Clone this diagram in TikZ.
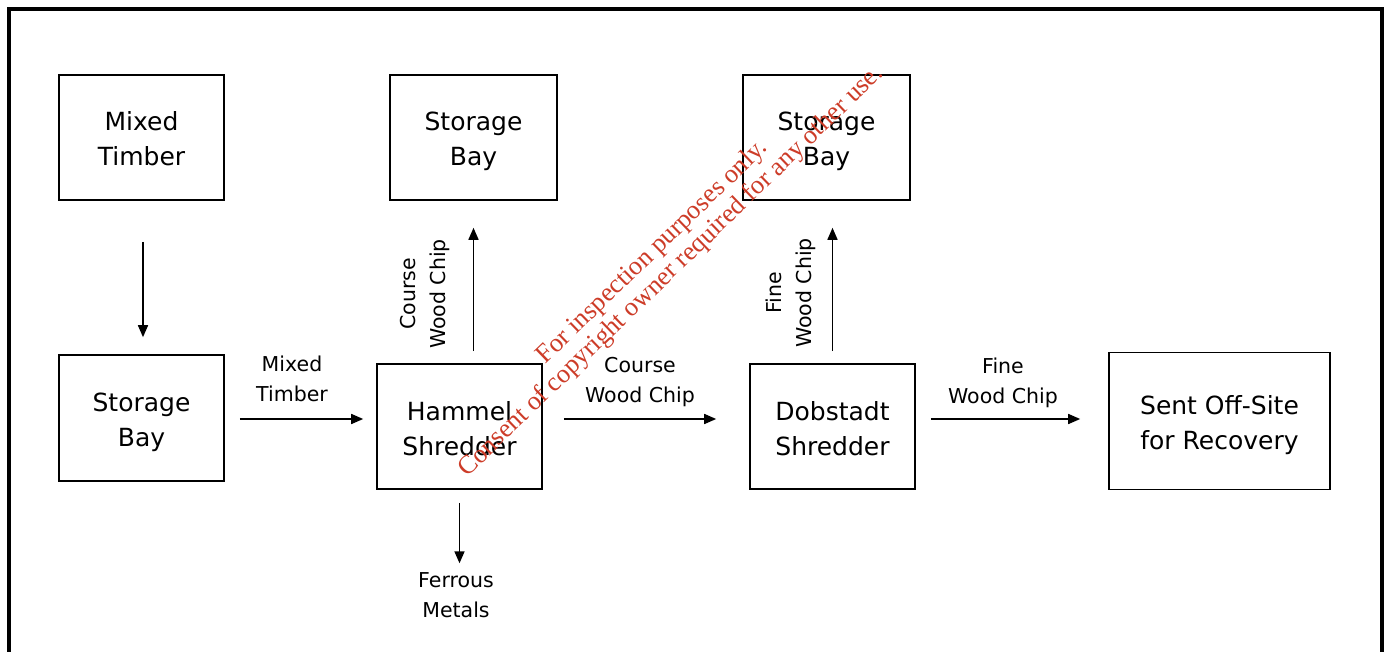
\documentclass[tikz,border=0pt]{standalone}
\usepackage{fontspec}
\setmainfont{DejaVu Sans}
\newfontfamily\wmfont{Liberation Serif}
\usetikzlibrary{arrows.meta}
\definecolor{wmred}{RGB}{205,60,40}
\newcommand\bst{\rule[-6pt]{0pt}{34pt}}
\newcommand\lst{\rule[-7pt]{0pt}{29pt}}
\begin{document}
\begin{tikzpicture}[x=1pt,y=-1pt,
  box/.style={draw,line width=1.6pt,inner sep=0pt,align=center,
    font=\fontsize{25}{35}\selectfont},
  lab/.style={inner sep=0pt,align=center,font=\fontsize{20.5}{30}\selectfont},
  arr/.style={line width=1.6pt,-{Triangle[length=12pt,width=10pt]}}]
\useasboundingbox (0,0) rectangle (1389,652);
\clip (0,0) rectangle (1389,652);
\fill[white] (0,0) rectangle (1389,652);
\draw[line width=4pt] (8.5,9.5) rectangle (1381.5,670);
% boxes
\node[box,minimum width=165pt,minimum height=125pt] (mt) at (141.5,137.5) {Mixed\bst\\Timber\bst};
\node[box,minimum width=165pt,minimum height=126pt] (sbl) at (141.5,418) {Storage\bst\\Bay\bst};
\node[box,minimum width=167pt,minimum height=125pt] (sb1) at (473.5,137.5) {Storage\bst\\Bay\bst};
\node[box,minimum width=165pt,minimum height=125pt] (hs) at (459.5,426.5) {Hammel\bst\\Shredder\bst};
\node[box,minimum width=167pt,minimum height=125pt] (sb2) at (826.5,137.5) {Storage\bst\\Bay\bst};
\node[box,minimum width=165pt,minimum height=125pt] (ds) at (832.5,426.5) {Dobstadt\bst\\Shredder\bst};
\node[box,minimum width=221pt,minimum height=137pt] (so) at (1219.5,421) {Sent Off-Site\bst\\for Recovery\bst};
% labels
\node[lab] (l1) at (292,379) {Mixed\lst\\Timber\lst};
\node[lab] (l2) at (640,380) {Course\lst\\Wood Chip\lst};
\node[lab] (l3) at (1003,381) {Fine\lst\\Wood Chip\lst};
\node[lab,rotate=90] (l4) at (423,294) {Course\lst\\Wood Chip\lst};
\node[lab,rotate=90] (l5) at (789,293) {Fine\lst\\Wood Chip\lst};
\node[lab] (fm) at (456,595) {Ferrous\lst\\Metals\lst};
% arrows
\draw[arr,shorten <=41pt,shorten >=17pt] ([xshift=1.5pt]mt.south) -- ([xshift=1.5pt]sbl.north);
\draw[arr,shorten <=15pt,shorten >=13pt] ([yshift=-1pt]sbl.east) -- ([yshift=-1pt]sbl.east -| hs.west);
\draw[arr,shorten <=21pt,shorten >=33pt] ([yshift=7.5pt]hs.east) -- ([yshift=7.5pt]ds.west);
\draw[arr,shorten <=15pt,shorten >=28pt] ([yshift=7.5pt]ds.east) -- ([yshift=7.5pt]ds.east -| so.west);
\draw[arr,shorten <=12pt,shorten >=27pt] (hs.north -| sb1.south) -- (sb1.south);
\draw[arr,shorten <=12pt,shorten >=27pt] (ds.north) -- (ds.north |- sb2.south);
\draw[arr,shorten <=13pt,shorten >=2pt] (hs.south) -- (hs.south |- fm.north);
% watermark
\node[inner sep=0pt,align=center,rotate=44,text=wmred,
  font=\wmfont\fontsize{26.3}{27}\selectfont] (wm) at (662,262)
  {For inspection purposes only.\\Consent of copyright owner required for any other use.};
\end{tikzpicture}
\end{document}
